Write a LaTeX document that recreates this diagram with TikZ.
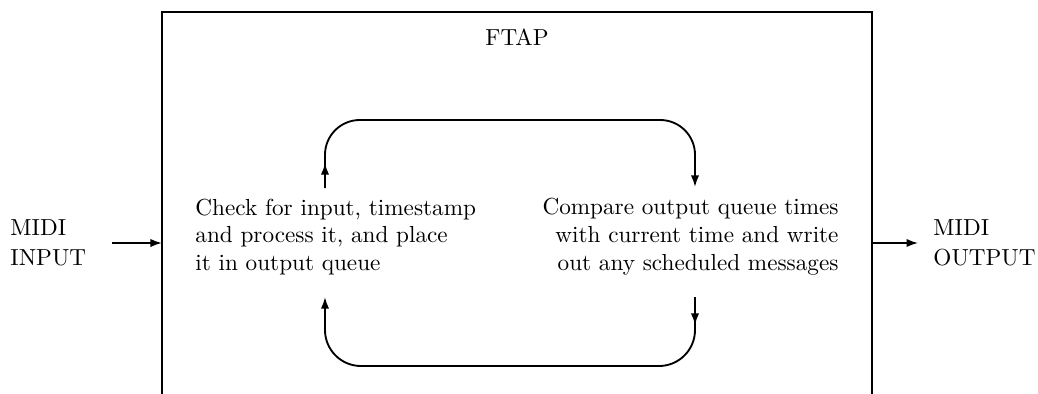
\documentclass[tikz,border=0pt]{standalone}
\usetikzlibrary{arrows.meta,calc}
\tikzset{
  line/.style={line width=0.8pt},
  arr/.style={line, -{Latex[length=5pt,width=3.6pt]}},
  lbl/.style={inner sep=0pt, font=\normalsize},
}
\begin{document}
\begin{tikzpicture}[x=0.431pt,y=-0.431pt]
\useasboundingbox (0,0) rectangle (1038,394);
% FTAP box, open at the bottom
\coordinate (bl) at (162,394);
\coordinate (tl) at (162,12);
\coordinate (tr) at (872,12);
\coordinate (br) at (872,394);
\draw[line] (bl) -- (tl) -- (tr) -- (br);
\node[lbl] (ftap) at (517,37) {FTAP};
% MIDI in / out
\node[lbl, anchor=west, align=left] (in) at (10,243) {MIDI\\[1pt]INPUT};
\node[lbl, anchor=west, align=left] (out) at (933,243) {MIDI\\[1pt]OUTPUT};
\coordinate (inEnd) at (in.east -| tl);
\coordinate (outStart) at (out.west -| tr);
\draw[arr, shorten <=11pt] (in.east) -- (inEnd);
\draw[arr, shorten >=6.4pt] (outStart) -- (out.west);
% the two processing steps
\node[lbl, anchor=west, align=left] (chk) at (195,237)
  {Check for input, timestamp\\and process it, and place\\it in output queue};
\node[lbl, anchor=east, align=right] (cmp) at (839,237)
  {Compare output queue times\\with current time and write\\out any scheduled messages};
% loop ends attached to the two steps
\coordinate (chkT) at (325,188);
\coordinate (chkB) at (325,297);
\coordinate (cmpT) at (695,187);
\coordinate (cmpB) at (695,297);
% upper loop: check -> compare
\draw[arr] (chkT) -- (325,163);
\draw[arr, rounded corners=15pt] (chkT) -- (325,120) -- (695,120) -- (cmpT);
% lower loop: compare -> check
\draw[arr] (cmpB) -- (695,325);
\draw[arr, rounded corners=15.5pt] (cmpB) -- (695,366) -- (325,366) -- (chkB);
\end{tikzpicture}
\end{document}
